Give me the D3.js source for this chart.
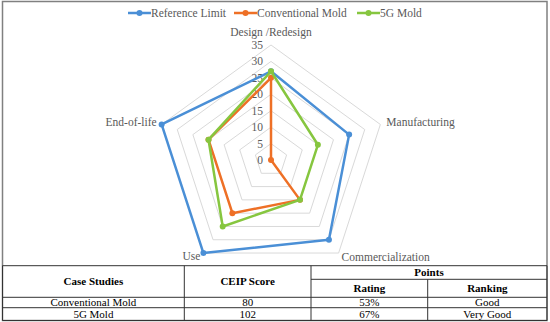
<!DOCTYPE html>
<html><head><meta charset="utf-8">
<script src="https://cdn.jsdelivr.net/npm/d3@7"></script>
<style>body{margin:0;background:#fff}svg{display:block}</style>
</head><body>
<svg id="c" width="550" height="322"></svg>
<script>
const axesNames = ["Design /Redesign","Manufacturing","Commercialization","Use","End-of-life"];
const seriesNames = ["Reference Limit","Conventional Mold","5G Mold"];
const seriesColors = ["#4a8fd6","#ee7026","#86c63f"];
const referenceLimit = [27,25,30,35,35];
const conventionalMold = [25,0,15,20,20];
const fiveGMold = [27,15,15,25,20];
const ticks = [0,5,10,15,20,25,30,35];
const tableHeader = ["Case Studies","CEIP Score","Points","Rating","Ranking"];
const caseStudies = ["Conventional Mold","5G Mold"];
const ceipScores = ["80","102"];
const ratings = ["53%","67%"];
const rankings = ["Good","Very Good"];

const FONT = '"Liberation Serif", "Times New Roman", serif';
const allSeries = [referenceLimit, conventionalMold, fiveGMold];
const svg = d3.select("#c");
const cx = 271, cy = 160;
const r = d3.scaleLinear().domain([0,35]).range([0,115]);
const ang = d3.scaleLinear().domain([0,axesNames.length]).range([0,2*Math.PI]);
const pt = (i,v)=>[cx + r(v)*Math.sin(ang(i)), cy - r(v)*Math.cos(ang(i))];
const txt = (sel)=>sel.append("text").style("font-family",FONT);

// outer frame
svg.append("rect").attr("x",2.5).attr("y",1.5).attr("width",544.5).attr("height",319)
  .attr("fill","none").attr("stroke","#808080").attr("stroke-width",1.5);

// grid rings
const g = svg.append("g");
ticks.filter(t=>t>0).forEach(t=>{
  const pts = axesNames.map((_,i)=>pt(i,t));
  g.append("polygon").attr("points",pts.map(p=>p.join(",")).join(" "))
   .attr("fill","none").attr("stroke","#d9d9d9").attr("stroke-width",1);
});
// tick labels
ticks.forEach(t=>{
  txt(g).attr("x",cx-8).attr("y",cy - r(t)).attr("dy","0.35em")
   .attr("text-anchor","end").attr("font-size",11.5)
   .attr("fill","#595959").text(t);
});
// axis labels
const lblPos = [
  {i:0, dx:0, dy:-13, anchor:"middle"},
  {i:1, dx:6, dy:-2, anchor:"start"},
  {i:2, dx:3, dy:4, anchor:"start"},
  {i:3, dx:-3, dy:3, anchor:"end"},
  {i:4, dx:-5, dy:-2, anchor:"end"}
];
lblPos.forEach(o=>{
  const p = pt(o.i,35);
  txt(g).attr("x",p[0]+o.dx).attr("y",p[1]+o.dy).attr("dy","0.35em")
   .attr("text-anchor",o.anchor).attr("font-size",11.5)
   .attr("fill","#595959").text(axesNames[o.i]);
});
// series
const line = d3.line().curve(d3.curveLinearClosed);
allSeries.forEach((s,k)=>{
  const pts = s.map((v,i)=>pt(i,v));
  g.append("path").attr("d",line(pts)).attr("fill","none")
   .attr("stroke",seriesColors[k]).attr("stroke-width",2.5).attr("stroke-linejoin","round");
  g.selectAll(null).data(pts).enter().append("circle")
   .attr("cx",d=>d[0]).attr("cy",d=>d[1]).attr("r",3).attr("fill",seriesColors[k]);
});
// legend
const legX = [128,234,357];
seriesNames.forEach((n,k)=>{
  const lg = svg.append("g").attr("transform",`translate(${legX[k]},13)`);
  lg.append("line").attr("x1",0).attr("x2",23).attr("stroke",seriesColors[k]).attr("stroke-width",2.5);
  lg.append("circle").attr("cx",11.5).attr("r",3).attr("fill",seriesColors[k]);
  txt(lg).attr("x",23).attr("dy","0.35em").attr("font-size",11.5)
   .attr("fill","#595959").text(n);
});

// table
const tx = [2.5,184.3,311,427.7,547];
const ty = [265.7,279.3,297.3,307.7,320.5];
const t = svg.append("g").attr("stroke","#333").attr("stroke-width",1);
t.append("line").attr("x1",tx[0]).attr("x2",tx[4]).attr("y1",ty[0]).attr("y2",ty[0]);
t.append("line").attr("x1",tx[2]).attr("x2",tx[4]).attr("y1",ty[1]).attr("y2",ty[1]);
t.append("line").attr("x1",tx[0]).attr("x2",tx[4]).attr("y1",ty[2]).attr("y2",ty[2]);
t.append("line").attr("x1",tx[0]).attr("x2",tx[4]).attr("y1",ty[3]).attr("y2",ty[3]);
t.append("line").attr("x1",tx[0]).attr("x2",tx[4]).attr("y1",ty[4]).attr("y2",ty[4]);
[1,2].forEach(c=>t.append("line").attr("x1",tx[c]).attr("x2",tx[c]).attr("y1",ty[0]).attr("y2",ty[4]));
t.append("line").attr("x1",tx[3]).attr("x2",tx[3]).attr("y1",ty[1]).attr("y2",ty[4]);
t.append("line").attr("x1",tx[0]).attr("x2",tx[0]).attr("y1",ty[0]).attr("y2",ty[4]);
t.append("line").attr("x1",tx[4]).attr("x2",tx[4]).attr("y1",ty[0]).attr("y2",ty[4]);

const cell = (x,y,s,bold)=>txt(svg).attr("x",x).attr("y",y).attr("dy","0.33em")
  .attr("text-anchor","middle").attr("font-size",11)
  .attr("font-weight",bold?"bold":"normal").attr("fill","#000").text(s);
const mid=(a,b)=>(a+b)/2;
cell(mid(tx[0],tx[1]),mid(ty[0],ty[2]),tableHeader[0],true);
cell(mid(tx[1],tx[2]),mid(ty[0],ty[2]),tableHeader[1],true);
cell(mid(tx[2],tx[4]),mid(ty[0],ty[1]),tableHeader[2],true);
cell(mid(tx[2],tx[3]),mid(ty[1],ty[2]),tableHeader[3],true);
cell(mid(tx[3],tx[4]),mid(ty[1],ty[2]),tableHeader[4],true);
caseStudies.forEach((c,i)=>{
  const yy = mid(ty[2+i],ty[3+i]);
  cell(mid(tx[0],tx[1]),yy,c,false);
  cell(mid(tx[1],tx[2]),yy,ceipScores[i],false);
  cell(mid(tx[2],tx[3]),yy,ratings[i],false);
  cell(mid(tx[3],tx[4]),yy,rankings[i],false);
});
</script>
</body></html>
